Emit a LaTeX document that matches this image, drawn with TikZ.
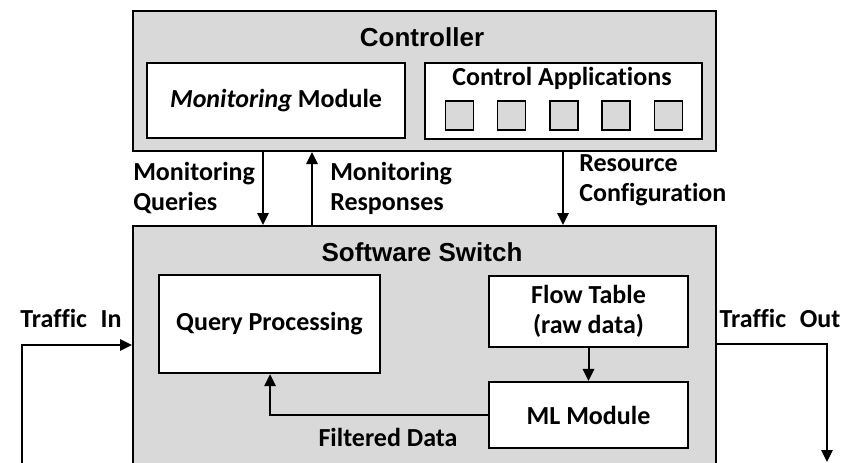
\documentclass[tikz,border=0pt]{standalone}
\usepackage{fontspec}
\setmainfont{Carlito}[Ligatures=NoCommon]
\newfontfamily\titlefont{Liberation Sans}
\usetikzlibrary{arrows.meta}
\definecolor{panel}{HTML}{D9D9D9}
\tikzset{
  lbl/.style={font=\fontsize{19.5}{22.5}\selectfont\bfseries, inner sep=0pt},
  ttl/.style={font=\fontsize{19.5}{22.5}\selectfont\titlefont\bfseries, inner sep=0pt},
  outer/.style={draw, fill=panel, line width=1.5pt, inner sep=0pt},
  inner/.style={draw, fill=white, line width=1.7pt, inner sep=0pt, align=center,
    font=\fontsize{19.5}{22.5}\selectfont\bfseries},
  app/.style={draw, fill=panel, line width=1.3pt, inner sep=0pt,
    minimum width=21pt, minimum height=21.75pt},
  arr/.style={line width=1.5pt, -{Triangle[length=9pt,width=8.5pt]}},
}
\begin{document}
\begin{tikzpicture}[x=0.75pt,y=-0.75pt]
\useasboundingbox (0,0) rectangle (852,462);

% controller
\node[outer, minimum width=437.25pt, minimum height=105pt] (ctrl) at (424.5,81) {};
\node[ttl] (ctrltitle) at (422,37) {Controller};
\node[inner, minimum width=193.5pt, minimum height=56.25pt] (mon) at (276,100.5)
  {\textit{Monitoring} Module};
\node[inner, minimum width=207.75pt, minimum height=57pt] (apps) at (563.5,101) {};
\node[lbl] (appstitle) at (562,78) {Control Applications};
\node[app] (a1) at (459.5,115.5) {};
\node[app] (a2) at (511.5,115.5) {};
\node[app] (a3) at (564,115.5) {};
\node[app] (a4) at (616,115.5) {};
\node[app] (a5) at (668.5,115.5) {};

% software switch
\node[outer, minimum width=437.25pt, minimum height=180pt] (sw) at (424.5,346) {};
\node[ttl] (swtitle) at (422,252) {Software Switch};
\node[inner, minimum width=165.75pt, minimum height=73.5pt] (qp) at (269.5,324)
  {Query Processing};
\node[inner, minimum width=149.25pt, minimum height=53.25pt] (ft) at (588.5,311.5)
  {Flow Table\\(raw data)};
\node[inner, minimum width=149.25pt, minimum height=49.5pt] (ml) at (588.5,415)
  {ML Module};

% controller <-> switch
\coordinate (qx) at (263,0);
\coordinate (rx) at (312,0);
\coordinate (cx) at (563,0);
\draw[arr] (ctrl.south -| qx) -- (sw.north -| qx);
\draw[arr] (sw.north -| rx) -- (ctrl.south -| rx);
\draw[arr] (ctrl.south -| cx) -- (sw.north -| cx);
\node[lbl, anchor=west, align=left] (lq) at (133,188) {Monitoring\\Queries};
\node[lbl, anchor=west, align=left] (lr) at (330,188) {Monitoring\\Responses};
\node[lbl, anchor=west, align=left] (lc) at (579,180) {Resource\\Configuration};

% inside the switch
\draw[arr] (ft) -- (ml);
\coordinate (fx) at (270,0);
\draw[arr] (ml.west) -- (ml.west -| fx) -- (qp.south -| fx);
\node[lbl] (lf) at (388,437) {Filtered Data};

% traffic
\coordinate (inlow) at (22,470);
\coordinate (iny) at (0,345);
\draw[arr] (inlow) -- (inlow |- iny) -- (sw.west |- iny);
\node[lbl] (lin) at (71,318) {Traffic\hspace{0.3em} In};
\coordinate (outlow) at (827,462);
\coordinate (outy) at (0,344);
\draw[arr] (sw.east |- outy) -- (outlow |- outy) -- (outlow);
\node[lbl] (lout) at (780,318) {Traffic\hspace{0.3em} Out};
\end{tikzpicture}
\end{document}
